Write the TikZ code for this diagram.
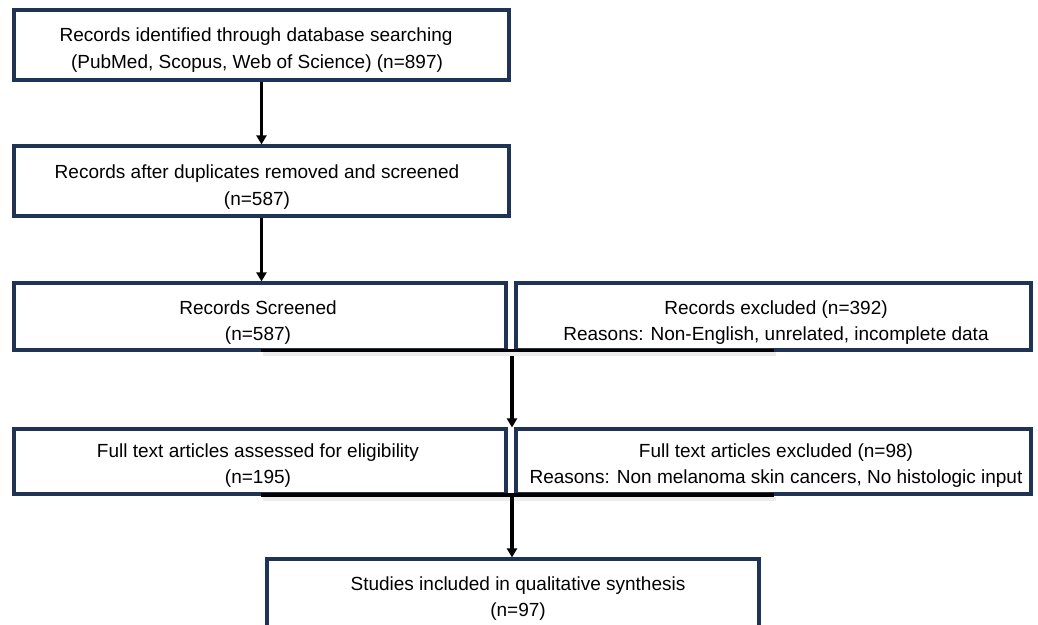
\documentclass[tikz,border=0pt]{standalone}
\usepackage{fontspec}
\setmainfont{Liberation Sans}
\usetikzlibrary{arrows.meta}
\definecolor{boxnavy}{HTML}{1F3354}
\begin{document}
\begin{tikzpicture}[x=1pt,y=-1pt,
  flowbox/.style={draw=boxnavy, line width=3.2pt, inner sep=0pt, fill=white},
  txt/.style={font=\fontsize{19pt}{23pt}\selectfont, anchor=base, inner sep=0pt, text=black},
  arr/.style={draw=black, line width=3.2pt, -{Triangle[width=10pt,length=9pt]}},
  hline/.style={draw=black, line width=3.6pt},
  hshadow/.style={draw=gray!15, line width=4pt}]
\useasboundingbox (0,0) rectangle (1038,624);
\clip (0,0) rectangle (1038,624);

% boxes
\node[flowbox, minimum width=495pt, minimum height=70pt] (b1) at (261.5,45) {};
\node[flowbox, minimum width=495pt, minimum height=70pt] (b2) at (261.5,181) {};
\node[flowbox, minimum width=492pt, minimum height=67pt] (b3l) at (260,316.5) {};
\node[flowbox, minimum width=515pt, minimum height=67pt] (b3r) at (773.5,316.5) {};
\node[flowbox, minimum width=492pt, minimum height=65pt] (b4l) at (260,461.5) {};
\node[flowbox, minimum width=515pt, minimum height=65pt] (b4r) at (773.5,461.5) {};
\node[flowbox, minimum width=492pt, minimum height=70pt] (b5) at (513,594) {};

% texts
\node[txt] (t1a) at (256,41.7) {Records identified through database searching};
\node[txt] (t1b) at (257,68.3) {(PubMed, Scopus, Web of Science) (n=897)};
\node[txt] (t2a) at (257,178) {Records after duplicates removed and screened};
\node[txt] (t2b) at (257,205) {(n=587)};
\node[txt] (t3a) at (258,314) {Records Screened};
\node[txt] (t3b) at (258,340) {(n=587)};
\node[txt] (t3c) at (776,314) {Records excluded (n=392)};
\node[txt] (t3d) at (776,340) {Reasons: Non-English, unrelated, incomplete data};
\node[txt] (t4a) at (258,457) {Full text articles assessed for eligibility};
\node[txt] (t4b) at (258,483) {(n=195)};
\node[txt] (t4c) at (776,457) {Full text articles excluded (n=98)};
\node[txt] (t4d) at (776,483) {Reasons: Non melanoma skin cancers, No histologic input};
\node[txt] (t5a) at (518,590) {Studies included in qualitative synthesis};
\node[txt] (t5b) at (518,616) {(n=97)};

% connectors
\draw[arr] (b1) -- (b2);
\draw[arr] (b2.south) -- (b2.south |- b3l.north);

\coordinate (h1l) at (260.7,350.5);
\coordinate (h1r) at (774,350.5);
\draw[hshadow] ([shift={(2,3.5)}]h1l) -- ([shift={(2,3.5)}]h1r);
\draw[hline] (h1l) -- (h1r);
\coordinate (a3s) at (512,356);
\draw[arr] (a3s) -- (a3s |- b4l.north);

\coordinate (h2l) at (261,495);
\coordinate (h2r) at (774,495);
\coordinate (j2) at (512,495);
\draw[hshadow] ([shift={(2,3.5)}]h2l) -- ([shift={(2,3.5)}]h2r);
\draw[hline] (h2l) -- (h2r);
\draw[arr] (j2) -- (j2 |- b5.north);
\end{tikzpicture}
\end{document}
